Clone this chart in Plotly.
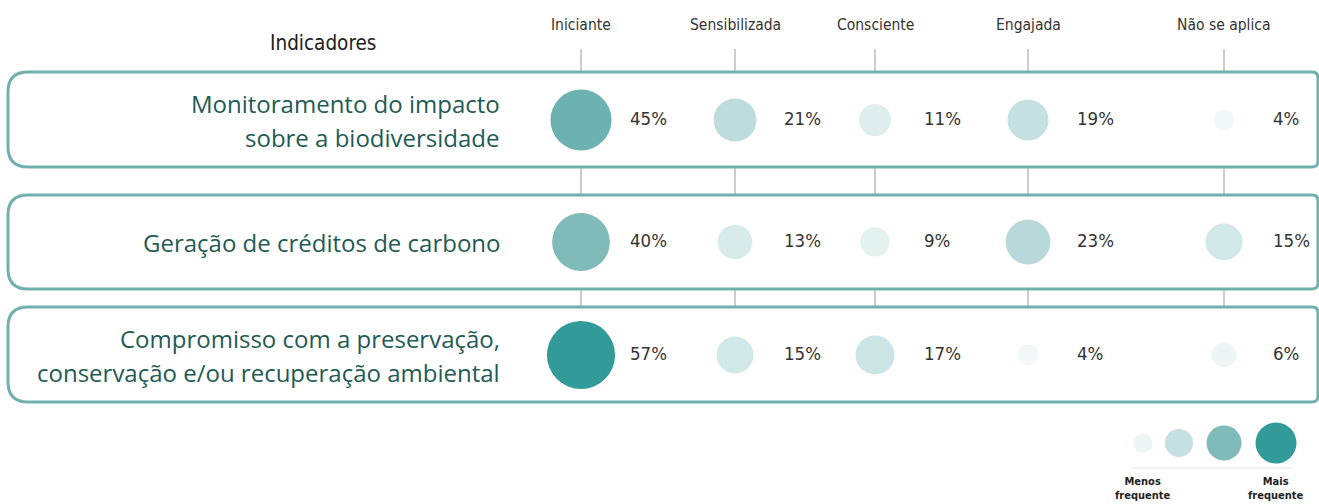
import math
import plotly.graph_objects as go

# ---------------- data ----------------
stages = ["Iniciante", "Sensibilizada", "Consciente", "Engajada", "Não se aplica"]
indicators = [
    "Monitoramento do impacto<br>sobre a biodiversidade",
    "Geração de créditos de carbono",
    "Compromisso com a preservação,<br>conservação e/ou recuperação ambiental",
]
monitoramento = [45, 21, 11, 19, 4]
creditos = [40, 13, 9, 23, 15]
compromisso = [57, 15, 17, 4, 6]
series = [monitoramento, creditos, compromisso]
legend_values = [6, 19, 40, 57]
legend_labels = ["Menos<br>frequente", "Mais<br>frequente"]

# ---------------- layout constants (pixels) ----------------
W, H = 1319, 504
COL_X = [581, 735, 875, 1028, 1224]
ROW_Y = [120, 242, 355]
BOXES = [(72, 167), (195, 289), (307, 402)]
BOX_X0, BOX_X1 = 8, 1318
TEXT_DX = 49
LINE_GAP = 34
LEG_X = [1143, 1179, 1224, 1276]
LEG_Y = 443
LEG_SIZES = [19, 28, 35, 41]

COLORSCALE = [
    [0.0, "#F8FBFB"],
    [0.07, "#F2F8F8"],
    [0.16, "#E4F1F1"],
    [0.26, "#D2E8E8"],
    [0.37, "#BEDCDC"],
    [0.42, "#B5D8D8"],
    [0.70, "#80BBBA"],
    [0.79, "#6DB2B2"],
    [1.0, "#339A9A"],
]
CMIN, CMAX = 0, 57

COND = "DejaVu Sans Condensed, Liberation Sans Narrow, Arial Narrow, sans-serif"
SANS = "Open Sans, Noto Sans, sans-serif"
BOX_COLOR = "#70B0AE"
TICK_COLOR = "#BDBDBD"


def size_of(v):
    return 4 + 8.5 * math.sqrt(v)


fig = go.Figure()

# circles + percentage labels
for yi, vals in zip(ROW_Y, series):
    fig.add_trace(go.Scatter(
        x=COL_X, y=[yi] * len(vals), mode="markers",
        marker=dict(size=[size_of(v) for v in vals], color=vals,
                    colorscale=COLORSCALE, cmin=CMIN, cmax=CMAX,
                    line=dict(width=0), opacity=1),
        hoverinfo="skip", showlegend=False,
    ))
    fig.add_trace(go.Scatter(
        x=[c + TEXT_DX for c in COL_X], y=[yi] * len(vals), mode="text",
        text=[f"{v}%" for v in vals], textposition="middle right",
        textfont=dict(family=COND, size=18.5, color="#333333"),
        hoverinfo="skip", showlegend=False,
    ))

# legend circles
fig.add_trace(go.Scatter(
    x=LEG_X, y=[LEG_Y] * 4, mode="markers",
    marker=dict(size=LEG_SIZES, color=legend_values, colorscale=COLORSCALE,
                cmin=CMIN, cmax=CMAX, line=dict(width=0), opacity=1),
    hoverinfo="skip", showlegend=False,
))

shapes = []


def box_path(x0, y0, x1, y1, r1, r2):
    return (f"M {x0+r1},{y0} L {x1-r2},{y0} Q {x1},{y0} {x1},{y0+r2} "
            f"L {x1},{y1-r2} Q {x1},{y1} {x1-r2},{y1} L {x0+r1},{y1} "
            f"Q {x0},{y1} {x0},{y1-r1} L {x0},{y0+r1} Q {x0},{y0} {x0+r1},{y0} Z")


for (y0, y1) in BOXES:
    shapes.append(dict(type="path", xref="x", yref="y",
                       path=box_path(BOX_X0, y0, BOX_X1, y1, 20, 6),
                       line=dict(color=BOX_COLOR, width=3), layer="above"))

# vertical connector ticks
segments = [(49, BOXES[0][0] - 1), (BOXES[0][1] + 1, BOXES[1][0] - 1),
            (BOXES[1][1] + 1, BOXES[2][0] - 1)]
for cx in COL_X:
    for (a, b) in segments:
        shapes.append(dict(type="line", xref="x", yref="y", x0=cx, x1=cx, y0=a, y1=b,
                           line=dict(color=TICK_COLOR, width=1.5), layer="below"))

# legend baseline
shapes.append(dict(type="line", xref="x", yref="y", x0=1132, x1=1293, y0=468, y1=468,
                   line=dict(color="#EEEEEE", width=1.5), layer="below"))

annotations = []
for cx, s in zip(COL_X, stages):
    annotations.append(dict(x=cx, y=25, xref="x", yref="y", text=s, showarrow=False,
                            xanchor="center", yanchor="middle",
                            font=dict(family=COND, size=15.5, color="#333333")))
annotations.append(dict(x=323, y=43, xref="x", yref="y", text="Indicadores", showarrow=False,
                        xanchor="center", yanchor="middle",
                        font=dict(family=COND, size=20.5, color="#222222")))
for yi, lab in zip(ROW_Y, indicators):
    lines = lab.split("<br>")
    n = len(lines)
    for k, line in enumerate(lines):
        ly = yi + (k - (n - 1) / 2) * LINE_GAP
        annotations.append(dict(x=502, y=ly, xref="x", yref="y", text=line, showarrow=False,
                                xanchor="right", yanchor="middle", align="right",
                                font=dict(family=SANS, size=24, color="#1F5B56")))
for lx, lab in zip([LEG_X[0], LEG_X[-1]], legend_labels):
    annotations.append(dict(x=lx, y=488, xref="x", yref="y", text=f"<b>{lab}</b>",
                            showarrow=False, xanchor="center", yanchor="middle",
                            font=dict(family=COND, size=11, color="#222222")))

fig.update_layout(
    width=W, height=H, margin=dict(l=0, r=0, t=0, b=0),
    paper_bgcolor="white", plot_bgcolor="white",
    xaxis=dict(range=[0, W], visible=False, fixedrange=True),
    yaxis=dict(range=[H, 0], visible=False, fixedrange=True),
    shapes=shapes, annotations=annotations, showlegend=False,
)

fig.write_html(
    "out.html",
    config={"displayModeBar": False},
    post_script="document.body.style.margin='0px';document.body.style.overflow='hidden';",
)
